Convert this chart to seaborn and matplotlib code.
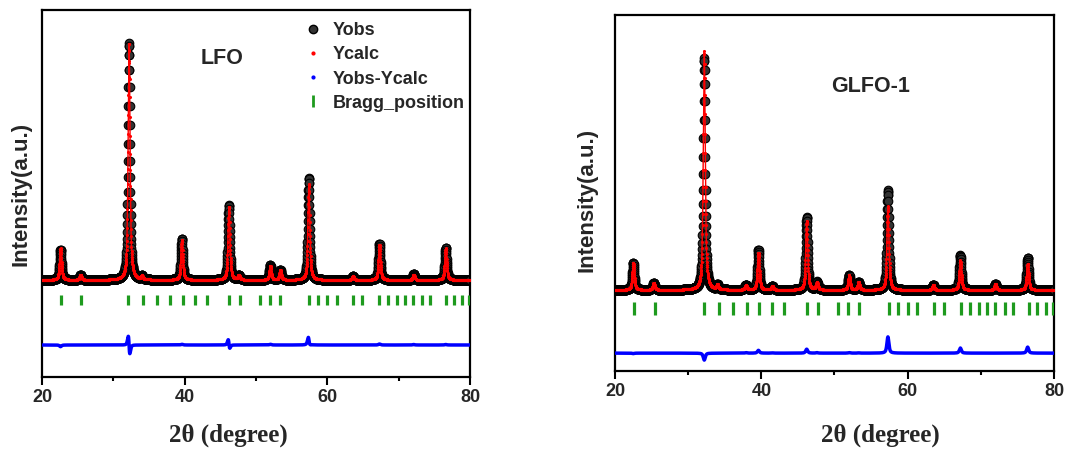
import numpy as np
import pandas as pd
import matplotlib
matplotlib.use("Agg")
import matplotlib.pyplot as plt
import seaborn as sns
from matplotlib.lines import Line2D
from matplotlib.ticker import MultipleLocator

# ---------------- data ----------------
two_theta_start, two_theta_end, two_theta_step = 20.0, 80.0, 0.02
x_ticks = [20, 40, 60, 80]

bragg_positions = [22.6, 25.4, 32.1, 34.2, 36.1, 38.0, 39.7, 41.5, 43.1, 46.2,
                   47.7, 50.5, 51.9, 53.3, 57.4, 58.7, 60.0, 61.3, 63.6, 64.9,
                   67.3, 68.5, 69.7, 70.9, 72.0, 73.3, 74.4, 76.6, 77.7, 78.9, 79.9]

# LFO peaks (relative intensity, strongest = 100)
lfo_peak_pos = [22.6, 25.4, 32.2, 34.0, 39.6, 46.2, 47.6, 52.0, 53.4, 57.4,
                63.6, 67.3, 72.1, 76.6]
lfo_obs_height = [12.7, 2.2, 100.0, 1.5, 17.3, 31.6, 2.0, 6.3, 4.2, 43.0,
                  1.6, 15.2, 2.5, 13.5]
lfo_calc_height = [13.4, 2.2, 100.0, 1.5, 17.0, 31.0, 2.0, 6.0, 4.2, 40.5,
                   1.6, 14.8, 2.3, 13.3]
lfo_calc_shift = [0.0, 0.0, 0.009, 0.0, 0.0, 0.014, 0.0, 0.0, 0.0, 0.007,
                  0.0, 0.0, 0.0, 0.0]
lfo_fwhm = 0.32

# GLFO-1 peaks
glfo_peak_pos = [22.5, 25.3, 32.2, 34.0, 37.9, 39.6, 41.5, 46.2, 47.6, 52.0,
                 53.3, 57.3, 63.5, 67.2, 72.0, 76.4]
glfo_obs_height = [11.6, 3.0, 100.0, 2.0, 2.2, 17.2, 1.7, 31.5, 3.4, 6.5,
                   3.4, 43.0, 2.2, 15.0, 2.6, 13.8]
glfo_calc_height = [11.8, 3.0, 103.0, 2.0, 2.0, 16.0, 1.6, 29.8, 3.2, 6.3,
                    3.3, 36.0, 2.2, 12.8, 2.6, 11.2]
glfo_calc_shift = [0.0] * len(glfo_peak_pos)
glfo_fwhm = 0.32

# ---------------- helpers ----------------
def pattern(x, pos, heights, shifts, fwhm, eta=0.65):
    y = np.zeros_like(x)
    for p, h, s in zip(pos, heights, shifts):
        dx = x - (p + s)
        lor = 1.0 / (1.0 + (2 * dx / fwhm) ** 2)
        gau = np.exp(-4 * np.log(2) * (dx / fwhm) ** 2)
        y += h * (eta * lor + (1 - eta) * gau)
    return y

x = np.arange(two_theta_start, two_theta_end + two_theta_step / 2, two_theta_step)

sns.set_theme(style="ticks")
plt.rcParams["font.family"] = ["Liberation Sans", "DejaVu Sans"]
plt.rcParams["font.weight"] = "bold"

fig = plt.figure(figsize=(10.73, 4.5), dpi=100)

panels = [
    dict(rect=[42/1073, 1-377/450, 428/1073, 367/450],
         pos=lfo_peak_pos, obs=lfo_obs_height, calc=lfo_calc_height,
         shift=lfo_calc_shift, fwhm=lfo_fwhm, ylim=(-40.9, 113.9),
         bragg_c=-8.4, bragg_h=2.2, diff_off=-27.4, name="LFO",
         name_xy=(0.42, 0.869), legend=True,
         ylab_xy=(-0.024, 0.5), xlab_xy=(0.435, -0.128)),
    dict(rect=[615/1073, 1-371/450, 439/1073, 356/450],
         pos=glfo_peak_pos, obs=glfo_obs_height, calc=glfo_calc_height,
         shift=glfo_calc_shift, fwhm=glfo_fwhm, ylim=(-34.9, 118.5),
         bragg_c=-8.0, bragg_h=2.8, diff_off=-27.2, name="GLFO-1",
         name_xy=(0.583, 0.798), legend=False,
         ylab_xy=(-0.040, 0.48), xlab_xy=(0.604, -0.148)),
]

for pnl in panels:
    ax = fig.add_axes(pnl["rect"])
    zeros = [0.0] * len(pnl["pos"])
    yobs = pattern(x, pnl["pos"], pnl["obs"], zeros, pnl["fwhm"])
    ycalc = pattern(x, pnl["pos"], pnl["calc"], pnl["shift"], pnl["fwhm"])
    df = pd.DataFrame({"x": x, "obs": yobs, "calc": ycalc,
                       "diff": yobs - ycalc + pnl["diff_off"]})

    sns.scatterplot(data=df, x="x", y="obs", ax=ax, s=38, color="#333333",
                    edgecolor="black", linewidth=0.8, legend=False, zorder=2)
    sns.lineplot(data=df, x="x", y="calc", ax=ax, color="#ff0000", lw=1.0,
                 estimator=None, sort=False, zorder=3)
    sns.scatterplot(data=df, x="x", y="calc", ax=ax, s=5, color="#ff0000",
                    linewidth=0, legend=False, zorder=3)
    sns.lineplot(data=df, x="x", y="diff", ax=ax, color="#0000ff", lw=2.5,
                 estimator=None, sort=False, zorder=3)
    ax.vlines(bragg_positions, pnl["bragg_c"] - pnl["bragg_h"],
              pnl["bragg_c"] + pnl["bragg_h"], color="#1e9a1e", lw=2.3, zorder=3)

    ax.set_xlim(two_theta_start, two_theta_end)
    ax.set_ylim(*pnl["ylim"])
    ax.set_yticks([])
    ax.set_xticks(x_ticks)
    ax.xaxis.set_minor_locator(MultipleLocator(10))
    ax.tick_params(axis="x", which="major", direction="out", length=6, width=1.5,
                   labelsize=13, pad=3, color="black")
    ax.tick_params(axis="x", which="minor", direction="out", length=3, width=1.5,
                   color="black")
    for lab in ax.get_xticklabels():
        lab.set_fontweight("bold")
    for sp in ax.spines.values():
        sp.set_visible(True)
        sp.set_linewidth(1.6)
        sp.set_color("black")
    ax.set_ylabel("Intensity(a.u.)", fontsize=16, fontweight="bold")
    ax.yaxis.set_label_coords(*pnl["ylab_xy"])
    ax.set_xlabel("2θ (degree)", fontsize=18, fontweight="bold",
                  family=["Liberation Serif", "DejaVu Serif"])
    ax.xaxis.set_label_coords(*pnl["xlab_xy"])
    ax.text(*pnl["name_xy"], pnl["name"], transform=ax.transAxes, fontsize=15.5,
            fontweight="bold", ha="center", va="center")

    if pnl["legend"]:
        handles = [
            Line2D([], [], ls="", marker="o", markersize=6, markerfacecolor="#333333",
                   markeredgecolor="black", label="Yobs"),
            Line2D([], [], ls="", marker=".", markersize=4, color="#ff0000", label="Ycalc"),
            Line2D([], [], ls="", marker=".", markersize=4, color="#0000ff", label="Yobs-Ycalc"),
            Line2D([], [], ls="", marker="|", markersize=9, markeredgewidth=2,
                   color="#1e9a1e", label="Bragg_position"),
        ]
        leg = ax.legend(handles=handles, loc="upper left", bbox_to_anchor=(0.612, 0.967),
                        frameon=False, fontsize=13, handlelength=1.0, handletextpad=0.6,
                        labelspacing=0.40, borderpad=0, borderaxespad=0)
        for t in leg.get_texts():
            t.set_fontweight("bold")

fig.savefig("out.png", dpi=100)
